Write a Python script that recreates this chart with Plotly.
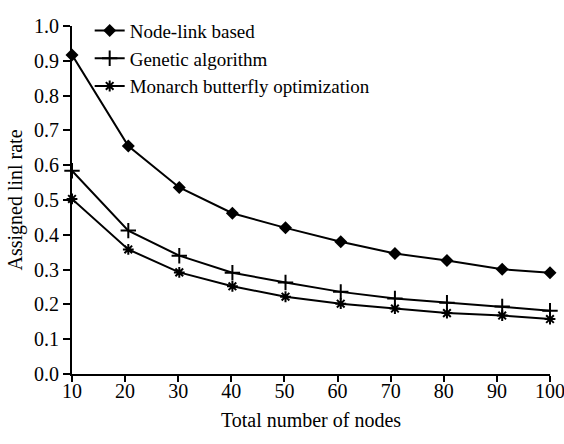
import plotly.graph_objects as go

nodes = [10, 20.6, 30.2, 40.2, 50.2, 60.6, 70.8, 80.6, 91, 100]
node_link = [0.917, 0.655, 0.536, 0.462, 0.420, 0.380, 0.346, 0.326, 0.301, 0.291]
genetic = [0.584, 0.412, 0.340, 0.291, 0.263, 0.236, 0.217, 0.205, 0.194, 0.182]
monarch = [0.503, 0.358, 0.292, 0.252, 0.222, 0.202, 0.188, 0.175, 0.168, 0.158]
names = ["Node-link based", "Genetic algorithm", "Monarch butterfly optimization"]
x_ticks = [10, 20, 30, 40, 50, 60, 70, 80, 90, 100]
y_ticks = [round(i * 0.1, 1) for i in range(11)]

FONT = "Liberation Serif, Times New Roman, serif"

fig = go.Figure()
styles = [
    dict(symbol="diamond", size=10, color="black"),
    dict(symbol="cross-thin-open", size=11, color="black", line=dict(width=2, color="black")),
    dict(symbol="asterisk-open", size=9, color="black", line=dict(width=2, color="black")),
]
for name, vals, mk in zip(names, [node_link, genetic, monarch], styles):
    fig.add_trace(go.Scatter(
        x=nodes, y=vals, name=name, mode="lines+markers",
        line=dict(color="black", width=2), marker=mk, cliponaxis=False,
    ))

fig.update_layout(
    width=564, height=444,
    margin=dict(l=72, r=14, t=13, b=70),
    paper_bgcolor="white", plot_bgcolor="white",
    font=dict(family=FONT, size=20, color="black"),
    showlegend=True,
    legend=dict(x=0.037, y=1.041, xanchor="left", yanchor="top",
                bgcolor="rgba(0,0,0,0)", font=dict(size=19, family=FONT),
                itemwidth=30, tracegroupgap=0),
    xaxis=dict(range=[10, 100], tickvals=x_ticks, showgrid=False, zeroline=False,
               showline=True, linecolor="black", linewidth=2, automargin=False,
               ticks="outside", ticklen=6, tickwidth=2, tickcolor="black",
               ticklabelstandoff=-8, ticklabeloverflow="allow",
               title=dict(text="Total number of nodes", standoff=12,
                          font=dict(size=20, family=FONT))),
    yaxis=dict(range=[0, 1], tickvals=y_ticks, tickformat=".1f", showgrid=False,
               zeroline=False, showline=True, linecolor="black", linewidth=2,
               automargin=False, ticklabeloverflow="allow",
               ticks="outside", ticklen=7, tickwidth=2, tickcolor="black",
               title=dict(text="Assigned linl rate", standoff=6,
                          font=dict(size=20, family=FONT))),
)

fig.write_html("out.html", config={"displayModeBar": False},
               post_script="document.body.style.margin='0';document.body.style.overflow='hidden';")
